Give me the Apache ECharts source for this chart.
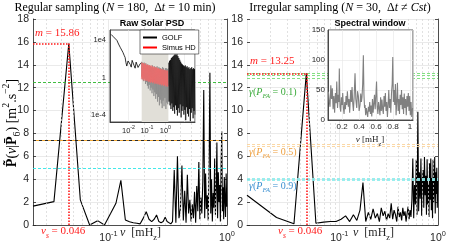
<!DOCTYPE html>
<html>
<head>
<meta charset="utf-8">
<script src="https://cdn.jsdelivr.net/npm/echarts@6.0.0/dist/echarts.min.js"></script>
<style>
html,body{margin:0;padding:0;background:#fff;}
#chart{width:449px;height:245px;}
</style>
</head>
<body>
<div id="chart"></div>
<script>
// ---------------- data ----------------
// frequency grid (mHz), k = 1..86
const freqs = [0.0116,0.0231,0.0347,0.0463,0.0579,0.0694,0.0810,0.0926,0.1042,0.1157,
0.1273,0.1389,0.1505,0.1620,0.1736,0.1852,0.1968,0.2083,0.2199,0.2315,
0.2431,0.2546,0.2662,0.2778,0.2894,0.3009,0.3125,0.3241,0.3356,0.3472,
0.3588,0.3704,0.3819,0.3935,0.4051,0.4167,0.4282,0.4398,0.4514,0.4630,
0.4745,0.4861,0.4977,0.5093,0.5208,0.5324,0.5440,0.5556,0.5671,0.5787,
0.5903,0.6019,0.6134,0.6250,0.6366,0.6481,0.6597,0.6713,0.6829,0.6944,
0.7060,0.7176,0.7292,0.7407,0.7523,0.7639,0.7755,0.7870,0.7986,0.8102,
0.8218,0.8333,0.8449,0.8565,0.8681,0.8796,0.8912,0.9028,0.9144,0.9259,
0.9375,0.9491,0.9606,0.9722,0.9838,0.9954];
// regular sampling periodogram, k = 2..86
const leftVals = [1.65,2.04,15.86,2.2,0.0,0.38,0.0,1.0,1.9,3.9,
0.44,0.29,0.2,0.15,0.1,0.6,1.16,0.5,0.3,0.5,
0.87,0.3,0.2,0.3,0.67,0.3,0.15,0.1,0.3,4.8,
0.2,6.0,0.6,1.5,5.2,0.4,3.0,0.2,4.4,1.0,
2.2,0.3,1.8,0.6,2.9,0.2,3.4,1.2,5.5,0.5,
2.4,1.0,3.8,11.8,0.6,4.5,1.4,2.6,0.4,5.2,
13.3,1.0,4.0,0.3,2.8,1.5,5.8,0.9,3.0,7.2,
0.6,4.6,2.0,3.5,0.3,5.0,8.2,1.2,3.3,0.5,
4.2,2.2,0.7,4.5,1.6];
// irregular sampling periodogram, k = 1..86
const rightVals = [2.6,0.65,0.1,13.25,0.15,0.25,0.3,0.3,0.5,0.8,
0.3,0.9,0.4,1.3,3.7,0.3,1.1,0.5,1.4,0.6,
1.0,0.3,1.5,0.8,1.2,0.4,1.0,0.6,1.9,0.5,
1.3,0.9,0.3,1.6,0.7,1.1,0.4,1.5,0.8,1.2,
0.3,1.0,1.6,0.5,1.3,0.7,2.2,5.8,0.6,3.5,
1.8,5.7,0.9,9.9,1.2,4.6,2.3,5.8,0.8,3.9,
4.8,1.5,5.95,2.6,4.3,0.9,5.75,1.8,3.6,0.7,
5.4,2.2,5.8,1.3,4.1,0.6,5.7,2.0,3.3,5.95,
1.0,4.6,2.7,5.0,1.5,3.9];
const nuS = 0.0463;
const mLeft = 15.86;
const mRight = 13.25;
const leftGreen = 12.5;
const leftOrange = 7.44;
const leftCyan = 5.0;
const rightGreen = [13.3, 13.1, 12.8];
const rightOrange = [7.05, 6.85];
const rightCyan = [4.08, 3.97, 3.87];
const leftMinor = [0.03,0.04,0.05,0.06,0.07,0.08,0.09,0.2,0.3,0.4,0.5,0.6,0.7,0.8,0.9];
const rightMinor = [0.02,0.03,0.04,0.05,0.06,0.07,0.08,0.09,0.2,0.3,0.4,0.5,0.6,0.7,0.8,0.9];

// Raw solar PSD inset
const golfLoF = [0.00116,0.0015,0.0019,0.00236,0.0029,0.00356,0.0042,0.0050,0.0058,0.0066,0.0073,0.0081,0.0095,0.0112,0.0125,0.0141,0.0158,0.0178,0.020,0.0229,0.026,0.0295,0.033,0.038,0.043,0.049];
const golfLoP = [4.3e4,2.5e4,1.8e4,1.0e4,4e3,1.8e3,1.1e3,5.1e2,2.5e2,1.4e2,40,17,60,95,25,13,70,100,20,10,45,62,12,8,30,37];
const golfMidF = [0.0501,0.0531,0.0562,0.0596,0.0631,0.0668,0.0708,0.0750,0.0794,0.0841,0.0891,0.0944,0.1,0.106,0.112,0.119,0.126,0.133,0.141,0.150,0.158,0.168,0.178,0.188,0.2,0.211,0.224,0.237,0.251,0.266,0.282,0.299,0.316,0.335,0.355,0.376,0.398,0.422,0.447,0.473,0.501,0.531,0.562,0.596,0.631,0.668,0.708,0.750,0.794,0.841,0.891,0.944,1.0,1.06,1.12,1.19,1.26,1.33,1.41];
const golfMidP = [50,1.26,40,0.63,32,0.4,40,0.8,25,0.2,32,0.32,20,0.13,25,0.063,16,0.16,20,0.04,16,0.08,13,0.02,20,0.05,10,0.01,16,0.025,13,0.005,10,0.016,16,0.0025,8,0.008,13,0.001,10,0.004,10,0.0016,8,5e-4,13,0.0032,10,8e-4,6.3,0.0063,10,4e-4,10,0.002,8,0.0013,10];
const simusP = [0.63,40,0.8,32,0.5,35,0.63,25,0.45,32,0.56,22,0.4,25,0.5,20,0.32,22,0.4,16,0.28,20,0.35,14,0.25,16,0.32,12.6,0.22,14,0.28,10,0.2,12.6,0.25,9,0.18,10,0.22,8,0.16,9,0.2,7,0.14,8,0.18,6.3,0.126,7,0.16,5.6,0.11,6.3,0.14,5,0.1,5.6,0.126];
const golfHiF = [1.50,1.58,1.68,1.78,1.88,2.0,2.11,2.24,2.37,2.51,2.66,2.82,2.99,3.16,3.35,3.55,3.76,3.98,4.22,4.47,4.73,5.01,5.31,5.62,5.96,6.31,6.68,7.08,7.50,7.94,8.41,8.91,9.44,10.0,10.6,11.2,11.9,12.6,13.3,14.1,15.0,15.8,16.8,17.8,18.8,20.0,21.1,22.4,23.7,25.1,26.6,28.2,29.9,31.6,33.5,35.5,37.6,39.8];
const golfHiP = [40,2.5e-3,63,1e-3,79,4e-4,126,1.6e-3,158,2.5e-4,200,6.3e-4,251,1.26e-4,316,1e-3,251,3.2e-4,316,7.9e-5,200,5e-4,126,1.6e-4,79,1.26e-3,50,5e-5,32,2.5e-4,25,7.9e-4,20,1e-4,16,3.2e-4,20,2.5e-5,12.6,6.3e-4,16,1.26e-4,10,6.3e-5,12.6,4e-4,7.9,2e-5,10,1.6e-4,12.6,5e-4,7.9,4e-5,10,2.5e-4,7.9,1e-4];
const shadeF = [0.052, 1.45];
const shadeTop = [360, 360];

// spectral window inset
const swF = [0.040,0.050,0.059,0.068,0.077,0.086,0.095,0.104,0.113,0.122,
0.131,0.138,0.147,0.156,0.163,0.168,0.176,0.185,0.193,0.201,
0.208,0.216,0.224,0.232,0.240,0.247,0.255,0.263,0.274,0.282,
0.290,0.302,0.310,0.318,0.326,0.334,0.343,0.353,0.362,0.373,
0.382,0.392,0.401,0.412,0.420,0.428,0.435,0.443,0.451,0.458,
0.465,0.471,0.478,0.486,0.494,0.502,0.510,0.518,0.526,0.534,
0.542,0.550,0.558,0.566,0.574,0.582,0.590,0.598,0.606,0.614,
0.622,0.630,0.638,0.646,0.654,0.662,0.670,0.678,0.686,0.694,
0.702,0.710,0.718,0.726,0.734,0.742,0.750,0.758,0.766,0.774,
0.782,0.790,0.797,0.804,0.812,0.820,0.828,0.836,0.844,0.852,
0.860,0.868,0.876,0.884,0.892,0.900,0.908,0.916,0.924,0.932,
0.940,0.948,0.956,0.964,0.972,0.980,0.988,0.996,1.004,1.012,
1.020,1.030];
const swV = [47,30,22,58,35,53,18,40,12,45,
28,64,20,42,30,86,22,14,38,25,
45,20,10,30,18,40,25,48,22,35,
12,50,30,55,28,15,40,78,35,20,
48,40,15,25,44,30,38,60,108,42,
20,25,8,20,12,5,22,14,30,10,
24,6,35,12,28,42,18,40,64,22,
10,30,20,8,38,15,34,18,10,40,
22,45,15,30,5,25,50,20,35,12,
45,60,105,30,50,25,60,8,30,62,
15,35,10,42,25,50,18,38,10,44,
20,35,8,40,22,45,15,40,8,30,
5,20];

// ---------------- chart ----------------
const SERIF = 'Liberation Serif';
const SANS = 'Liberation Sans';
const AX = '#262626';
const pair = (xs, ys) => xs.map((x, i) => [x, ys[i]]);
const lg = v => Math.log10(v);
const isDecade = v => Math.abs(lg(v) - Math.round(lg(v))) < 1e-6;
const decLabel = v => '{b|10}{s|' + Math.round(lg(v)) + '}';
function supRich(fs) {
  const lh = Math.round(fs * 1.3);
  return {
    b: {fontSize: fs, fontFamily: SANS, color: AX, lineHeight: lh, verticalAlign: 'bottom'},
    s: {fontSize: fs * 0.7, fontFamily: SANS, color: AX, lineHeight: lh, verticalAlign: 'top'}
  };
}
function mainX(grid, min) {
  return {
    type: 'log', gridIndex: grid, min: min, max: 1,
    axisLine: {show: true, onZero: false, lineStyle: {color: AX, width: 0.8}},
    axisTick: {show: false},
    splitLine: {show: true, lineStyle: {color: '#e4e4e4', width: 0.8}},
    axisLabel: {margin: 5, formatter: v => isDecade(v) ? decLabel(v) : '', rich: supRich(10.5),
      showMinLabel: true, showMaxLabel: true}
  };
}
function mainY(grid, showLine) {
  return {
    type: 'value', gridIndex: grid, min: 0, max: 18, interval: 2, position: 'left',
    axisLine: {show: showLine, onZero: false, lineStyle: {color: AX, width: 0.8}},
    axisTick: {show: true, inside: true, length: 3, lineStyle: {color: AX, width: 0.8}},
    splitLine: {show: true, lineStyle: {color: '#e4e4e4', width: 0.8}},
    axisLabel: {margin: 4, fontSize: 10.5, fontFamily: SANS, color: AX}
  };
}
function borderY(grid) {
  return {
    type: 'value', gridIndex: grid, min: 0, max: 18, interval: 2, position: 'right',
    axisLine: {show: true, onZero: false, lineStyle: {color: AX, width: 0.8}},
    axisTick: {show: true, inside: true, length: 3, lineStyle: {color: AX, width: 0.8}},
    axisLabel: {show: false}, splitLine: {show: false}
  };
}
const dotted = {color: '#ff1a1a', type: [1.5, 1.5], width: 1.6};
function minorLines(list) {
  return list.map(v => ({xAxis: v, lineStyle: {color: '#d4d4d4', type: [2, 2], width: 0.7}}));
}
function hLines(list, color, w) {
  return list.map(v => ({yAxis: v, lineStyle: {color: color, type: [3, 2], width: w}}));
}
function richSet(size, color) {
  const lh = Math.round(size * 1.5);
  const base = {fontFamily: SERIF, fontSize: size, fill: color, color: color, lineHeight: lh};
  return {
    n: Object.assign({}, base),
    i: Object.assign({}, base, {fontStyle: 'italic'}),
    b: Object.assign({}, base, {fontWeight: 'bold'}),
    sub: Object.assign({}, base, {fontSize: size * 0.7, verticalAlign: 'bottom'}),
    subi: Object.assign({}, base, {fontSize: size * 0.7, fontStyle: 'italic', verticalAlign: 'bottom'}),
    sup: Object.assign({}, base, {fontSize: size * 0.7, verticalAlign: 'top'})
  };
}
function txt(x, y, text, size, color, align, extra) {
  return Object.assign({
    type: 'text', x: x, y: y, z: 100, silent: true,
    style: {text: text, rich: richSet(size, color), fontFamily: SERIF, fontSize: size,
      fill: color, lineHeight: Math.round(size * 1.5),
      align: align, textAlign: align, verticalAlign: 'middle', textVerticalAlign: 'middle'}
  }, extra || {});
}
function boldTxt(x, y, text, size) {
  return {type: 'text', x: x, y: y, z: 100, silent: true,
    style: {text: text, fontFamily: SANS, fontSize: size, fontWeight: 'bold', fill: '#000',
      align: 'center', textAlign: 'center', verticalAlign: 'middle', textVerticalAlign: 'middle'}};
}

const chart = echarts.init(document.getElementById('chart'), null, {width: 449, height: 245});
const option = {
  animation: false,
  backgroundColor: '#fff',
  grid: [
    {left: 33, top: 19, width: 194, height: 206},
    {left: 247, top: 19, width: 191, height: 206},
    {left: 110, top: 30, width: 85, height: 92, show: true, backgroundColor: '#fff', borderColor: AX, borderWidth: 0.8, z: 10},
    {left: 328, top: 30, width: 85, height: 90, show: true, backgroundColor: '#fff', borderColor: AX, borderWidth: 0.8, z: 10}
  ],
  xAxis: [
    mainX(0, freqs[1]),
    mainX(1, freqs[0]),
    {type: 'log', gridIndex: 2, min: 1e-3, max: 40, z: 11,
      axisLine: {show: true, onZero: false, lineStyle: {color: AX, width: 0.8}},
      axisTick: {show: false},
      splitLine: {show: true, lineStyle: {color: '#e6e6e6', width: 0.6}},
      axisLabel: {margin: 3, formatter: v => (isDecade(v) && lg(v) > -2.5 && lg(v) < 0.5) ? decLabel(v) : '', rich: supRich(7.5)}},
    {type: 'value', gridIndex: 3, min: 0.035, max: 1.035, splitNumber: 5, z: 11,
      axisLine: {show: true, onZero: false, lineStyle: {color: AX, width: 0.8}},
      axisTick: {show: false},
      splitLine: {show: true, lineStyle: {color: '#e6e6e6', width: 0.6}},
      axisLabel: {margin: 3, fontSize: 8, fontFamily: SANS, color: AX,
        formatter: v => (v > 0.1 && Math.abs(v * 5 - Math.round(v * 5)) < 1e-6) ? String(Math.round(v * 10) / 10) : ''}}
  ],
  yAxis: [
    mainY(0, true),
    borderY(0),
    mainY(1, false),
    borderY(1),
    {type: 'log', gridIndex: 2, min: 1.6e-5, max: 1.3e5, z: 11,
      axisLine: {show: true, onZero: false, lineStyle: {color: AX, width: 0.8}},
      axisTick: {show: false}, splitLine: {show: false},
      axisLabel: {margin: 4, fontSize: 7.5, fontFamily: SANS, color: AX,
        formatter: v => {
          if (!isDecade(v)) return '';
          const e = Math.round(lg(v));
          return e === 4 ? '1e4' : e === 0 ? '1' : e === -4 ? '1e-4' : '';
        }}},
    {type: 'value', gridIndex: 3, min: 0, max: 150, interval: 50, z: 11,
      axisLine: {show: true, onZero: false, lineStyle: {color: AX, width: 0.8}},
      axisTick: {show: false},
      splitLine: {show: true, lineStyle: {color: '#e6e6e6', width: 0.6}},
      axisLabel: {margin: 3, fontSize: 8, fontFamily: SANS, color: AX}}
  ],
  legend: {
    data: [{name: 'GOLF', itemStyle: {color: '#000'}}, {name: 'Simus HD', itemStyle: {color: '#ff0000'}}],
    left: 140, top: 30, orient: 'vertical', icon: 'rect', itemWidth: 14, itemHeight: 2, itemGap: 1,
    padding: [3, 3, 2, 3], backgroundColor: '#fff', borderColor: AX, borderWidth: 0.6, borderRadius: 0,
    selectedMode: false, z: 20,
    textStyle: {fontSize: 7.5, fontFamily: SANS, color: '#000', lineHeight: 9}
  },
  series: [
    {type: 'line', xAxisIndex: 0, yAxisIndex: 0, data: pair(freqs.slice(1), leftVals),
      symbol: 'none', silent: true, z: 3, lineStyle: {color: '#000', width: 1.1}, itemStyle: {color: '#000'},
      markLine: {silent: true, symbol: ['none', 'none'], animation: false, label: {show: false},
        data: [].concat(
          minorLines(leftMinor),
          [{yAxis: leftGreen, lineStyle: {color: '#2bb52b', type: [3, 2], width: 0.9}},
           {yAxis: leftOrange, lineStyle: {color: '#111', type: [3, 3], width: 0.9}},
           {yAxis: leftOrange, lineStyle: {color: '#f0a020', type: [3, 3], dashOffset: 3, width: 0.9}},
           {yAxis: leftCyan, lineStyle: {color: '#2ee6e6', type: [3, 2], width: 0.9}},
           [{coord: [freqs[1], mLeft], lineStyle: dotted}, {coord: [nuS, mLeft], lineStyle: dotted}],
           [{coord: [nuS, 0], lineStyle: dotted}, {coord: [nuS, mLeft], lineStyle: dotted}]]
        )}},
    {type: 'line', xAxisIndex: 1, yAxisIndex: 2, data: pair(freqs, rightVals),
      symbol: 'none', silent: true, z: 3, lineStyle: {color: '#000', width: 1.1}, itemStyle: {color: '#000'},
      markLine: {silent: true, symbol: ['none', 'none'], animation: false, label: {show: false},
        data: [].concat(
          minorLines(rightMinor),
          hLines(rightGreen, '#74dd74', 0.9),
          hLines(rightOrange, '#fbd49c', 0.9),
          hLines(rightCyan, '#8eecec', 0.9),
          [[{coord: [freqs[0], mRight], lineStyle: dotted}, {coord: [nuS, mRight], lineStyle: dotted}],
           [{coord: [nuS, 0], lineStyle: dotted}, {coord: [nuS, mRight], lineStyle: dotted}]]
        )}},
    {type: 'line', name: 'shade', xAxisIndex: 2, yAxisIndex: 4, data: pair(shadeF, shadeTop),
      symbol: 'none', silent: true, z: 12, lineStyle: {width: 0},
      areaStyle: {color: '#e1dfd8', opacity: 1, origin: 'start'}},
    {type: 'line', name: 'GOLF', xAxisIndex: 2, yAxisIndex: 4, data: pair(golfMidF, golfMidP),
      symbol: 'none', silent: true, z: 13, color: '#858585', lineStyle: {color: '#858585', width: 0.7}},
    {type: 'line', name: 'Simus HD', xAxisIndex: 2, yAxisIndex: 4, data: pair(golfMidF, simusP),
      symbol: 'none', silent: true, z: 14, color: '#ec6c6c', lineStyle: {color: '#ec6c6c', width: 0.8}},
    {type: 'line', name: 'GOLF', xAxisIndex: 2, yAxisIndex: 4, data: pair(golfLoF, golfLoP),
      symbol: 'none', silent: true, z: 15, color: '#000', lineStyle: {color: '#000', width: 0.8}},
    {type: 'line', name: 'GOLF', xAxisIndex: 2, yAxisIndex: 4, data: pair(golfHiF, golfHiP),
      symbol: 'none', silent: true, z: 15, color: '#000', lineStyle: {color: '#000', width: 0.7}},
    {type: 'line', name: 'window', xAxisIndex: 3, yAxisIndex: 5, data: pair(swF, swV),
      symbol: 'none', silent: true, z: 13, color: '#808080', lineStyle: {color: '#808080', width: 1.1}}
  ],
  graphic: {elements: [
    txt(115, 8, 'Regular sampling ({i|N} = 180,  Δ{i|t} = 10 min)', 12, '#000', 'center'),
    txt(340, 8, 'Irregular sampling ({i|N} = 30,  Δ{i|t} ≠ {i|Cst})', 12, '#000', 'center'),
    txt(12, 123, '{b|P\u0303}({i|ν}|{b|P\u0304}{sub|6}) [m{sup|2}.s{sup|−2}]', 14, '#000', 'center', {rotation: Math.PI / 2}),
    txt(35, 33, '{i|m} = 15.86', 11, '#ff2020', 'left'),
    txt(250, 61, '{i|m} = 13.25', 11, '#ff2020', 'left'),
    txt(41, 231, '{i|ν}{subi|s} = 0.046', 11, '#ff2020', 'left'),
    txt(278, 231, '{i|ν}{subi|s} = 0.046', 11, '#ff2020', 'left'),
    txt(120, 233, '{i|ν}  [mH{sub|z}]', 12, AX, 'left'),
    txt(353, 233, '{i|ν}  [mH{sub|z}]', 12, AX, 'left'),
    txt(249, 92, '{i|γ}({i|P}{subi|FA} = 0.1)', 10, '#3aaa3a', 'left'),
    txt(249, 152, '{i|γ}({i|P}{subi|FA} = 0.5)', 10, '#eea040', 'left'),
    txt(249, 186, '{i|γ}({i|P}{subi|FA} = 0.9)', 10, '#3a8fd0', 'left'),
    boldTxt(152, 24, 'Raw Solar PSD', 9),
    boldTxt(370, 24, 'Spectral window', 9),
    txt(370, 140, '{i|ν} [mH{sub|z}]', 9, AX, 'center')
  ]}
};
chart.setOption(option);
</script>
</body>
</html>
